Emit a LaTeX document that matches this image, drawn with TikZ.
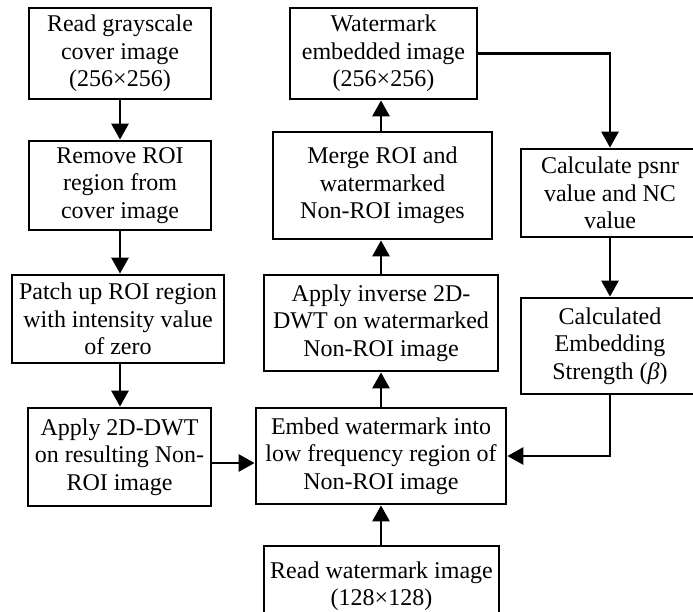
\documentclass[tikz,border=0pt]{standalone}
\usepackage{fontspec}
\setmainfont{Liberation Serif}
\usetikzlibrary{arrows.meta,calc}
\begin{document}
\begin{tikzpicture}[x=1pt,y=-1pt,
  box/.style={draw=black,line width=2.8pt,align=center,inner sep=0pt,
    font=\fontsize{24}{27.5}\selectfont},
  arr/.style={line width=2.8pt,-{Triangle[length=16pt,width=17pt]}}]
\useasboundingbox (0,0) rectangle (693,611);
\clip (0,0) rectangle (693,611);
\node[box,minimum width=182pt,minimum height=91pt] (b1) at (120,53.5) {Read grayscale\\cover image\\(256×256)};
\node[box,minimum width=182pt,minimum height=89pt] (b2) at (120,185.5) {Remove ROI\\region from\\cover image};
\node[box,minimum width=212pt,minimum height=88pt] (b3) at (118,319) {Patch up ROI region\\with intensity value\\of zero};
\node[box,minimum width=183pt,minimum height=98pt] (b4) at (119.5,457) {Apply 2D-DWT\\on resulting Non-\\ROI image};
\node[box,minimum width=250pt,minimum height=96pt] (emb) at (381,456) {Embed watermark into\\low frequency region of\\Non-ROI image};
\node[box,minimum width=235pt,minimum height=80pt] (rw) at (381.5,586) {Read watermark image\\(128×128)};
\node[box,minimum width=234pt,minimum height=96pt] (inv) at (381,323) {Apply inverse 2D-\\DWT on watermarked\\Non-ROI image};
\node[box,minimum width=219pt,minimum height=107pt] (mrg) at (382.5,185.5) {Merge ROI and\\watermarked\\Non-ROI images};
\node[box,minimum width=187pt,minimum height=91pt] (wme) at (383.5,53.5) {Watermark\\embedded image\\(256×256)};
\node[box,minimum width=178pt,minimum height=88pt] (psnr) at (610,193) {Calculate psnr\\value and NC\\value};
\node[box,minimum width=178pt,minimum height=96pt] (cst) at (610,346) {Calculated\\Embedding\\Strength ({\itshape β})};
\draw[arr] (b1.south) -- (b2.north);
\draw[arr] (b2.south) -- (b2.south |- b3.north);
\draw[arr] (b2.south |- b3.south) -- (b2.south |- b4.north);
\draw[arr] ([yshift=-6pt]b4.east) -- ([yshift=-6pt]b4.east -| emb.west);
\draw[arr] (rw.north -| emb.south) -- (emb.south);
\draw[arr] (emb.north) -- (emb.north |- inv.south);
\draw[arr] (emb.north |- inv.north) -- (emb.north |- mrg.south);
\draw[arr] (emb.north |- mrg.north) -- (emb.north |- wme.south);
\draw[arr] (wme.east) -| (psnr.north);
\draw[arr] (psnr.south) -- (cst.north);
\draw[arr] (cst.south) |- (emb.east);
\end{tikzpicture}
\end{document}
